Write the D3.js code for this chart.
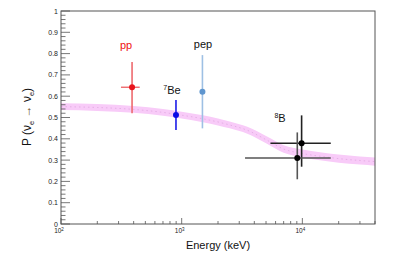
<!DOCTYPE html>
<html>
<head>
<meta charset="utf-8">
<script src="https://cdn.jsdelivr.net/npm/d3@7"></script>
<style>
  body { margin: 0; background: #fff; }
  text { font-family: "Liberation Sans", Arial, sans-serif; }
</style>
</head>
<body>
<div id="chart"></div>
<script>
// MSW survival probability band (energy in keV)
var bandE = [100, 200, 400, 700, 1000, 1500, 2000, 2500, 3500, 5000, 7000, 10000, 15000, 20000, 30000, 40000];
var bandP = [0.551, 0.547, 0.538, 0.524, 0.511, 0.494, 0.479, 0.465, 0.440, 0.396, 0.352, 0.331, 0.316, 0.307, 0.298, 0.293];
var bandW = [0.016, 0.016, 0.016, 0.016, 0.016, 0.016, 0.016, 0.016, 0.016, 0.017, 0.018, 0.019, 0.019, 0.019, 0.019, 0.019];

// measurements
var names  = ["pp", "7Be", "pep", "8B", "8B"];
var energy = [388, 897, 1486, 9860, 9080];
var prob   = [0.642, 0.512, 0.621, 0.379, 0.310];
var eLo    = [314, 897, 1486, 5440, 3350];
var eHi    = [449, 897, 1486, 17200, 17200];
var pLo    = [0.52, 0.441, 0.449, 0.269, 0.21];
var pHi    = [0.76, 0.582, 0.793, 0.51, 0.43];
var colors = ["#e8141c", "#0a0ae6", "#5f96cf", "#000000", "#000000"];
var barColors = ["#ee6a6e", "#1c1ce8", "#9ec0e4", "#222222", "#555555"];

var yTicks = [0, 0.1, 0.2, 0.3, 0.4, 0.5, 0.6, 0.7, 0.8, 0.9, 1];
var xTicks = [100, 1000, 10000];
var xTickLabels = ["2", "3", "4"];

function init(){
  var w = 415, h = 256;
  var left = 61, right = 375, top = 11, bottom = 224;

  var svg = d3.select("#chart").append("svg")
      .attr("width", w)
      .attr("height", h);

  var x = d3.scaleLog().domain([100, 40000]).range([left, right]);
  var y = d3.scaleLinear().domain([0, 1]).range([bottom, top]);

  // band
  var bandData = bandE.map(function(e, i){ return {e: e, p: bandP[i], w: bandW[i]}; });
  var area = d3.area()
      .x(function(d){ return x(d.e); })
      .y0(function(d){ return y(d.p - d.w); })
      .y1(function(d){ return y(d.p + d.w); })
      .curve(d3.curveMonotoneX);
  svg.append("path")
      .datum(bandData)
      .attr("d", area)
      .attr("fill", "#f8cbf8");
  svg.append("path")
      .datum(bandData)
      .attr("d", d3.line().x(function(d){ return x(d.e); }).y(function(d){ return y(d.p); }).curve(d3.curveMonotoneX))
      .attr("fill", "none")
      .attr("stroke", "#dca4dc")
      .attr("stroke-width", 0.7)
      .attr("stroke-dasharray", "1.5,3");

  // frame
  svg.append("rect")
      .attr("x", left).attr("y", top)
      .attr("width", right - left).attr("height", bottom - top)
      .attr("fill", "none")
      .attr("stroke", "#555")
      .attr("stroke-width", 1);

  // y ticks: majors every 0.1, minors every 0.02
  var g = svg.append("g");
  d3.range(0, 51).forEach(function(i){
    var v = i * 0.02;
    var major = i % 5 === 0;
    g.append("line")
      .attr("x1", left).attr("x2", left + (major ? 9 : 4.5))
      .attr("y1", y(v)).attr("y2", y(v))
      .attr("stroke", "#555").attr("stroke-width", 0.8);
  });
  g.selectAll("text.yl").data(yTicks).enter().append("text")
      .attr("class", "yl")
      .attr("x", left - 3)
      .attr("y", function(d){ return y(d) + 2.5; })
      .attr("text-anchor", "end")
      .attr("font-size", 7)
      .attr("fill", "#222")
      .text(function(d){ return d === 0 ? "0" : d === 1 ? "1" : d3.format(".1f")(d); });

  // x ticks: decades + minors
  [100, 1000, 10000].forEach(function(dec){
    for (var k = 1; k <= 9; k++){
      var v = dec * k;
      if (v > 40000) break;
      g.append("line")
        .attr("x1", x(v)).attr("x2", x(v))
        .attr("y1", bottom).attr("y2", bottom - (k === 1 ? 6 : 3))
        .attr("stroke", "#555").attr("stroke-width", 0.8);
    }
  });
  var xl = g.selectAll("text.xl").data(xTicks).enter().append("text")
      .attr("class", "xl")
      .attr("x", function(d){ return x(d) - 2; })
      .attr("y", bottom + 9)
      .attr("text-anchor", "middle")
      .attr("font-size", 6.5)
      .attr("fill", "#222");
  xl.append("tspan").text("10");
  xl.append("tspan").attr("font-size", 4.5).attr("dy", -2.5)
      .text(function(d, i){ return xTickLabels[i]; });

  // error bars and points
  var pts = names.map(function(n, i){
    return {n: n, e: energy[i], p: prob[i], elo: eLo[i], ehi: eHi[i], plo: pLo[i], phi: pHi[i], c: colors[i], bc: barColors[i]};
  });
  var pg = svg.append("g");
  pts.forEach(function(d){
    pg.append("line")
      .attr("x1", x(d.e)).attr("x2", x(d.e))
      .attr("y1", y(d.plo)).attr("y2", y(d.phi))
      .attr("stroke", d.bc).attr("stroke-width", 1.6);
    if (d.elo !== d.ehi) {
      pg.append("line")
        .attr("x1", x(d.elo)).attr("x2", x(d.ehi))
        .attr("y1", y(d.p)).attr("y2", y(d.p))
        .attr("stroke", d.bc).attr("stroke-width", 1.4);
    }
    pg.append("circle")
      .attr("cx", x(d.e)).attr("cy", y(d.p))
      .attr("r", 3)
      .attr("fill", d.c);
  });

  // labels
  function label(tx, ty, sup, main, col){
    var t = svg.append("text")
      .attr("x", tx).attr("y", ty)
      .attr("text-anchor", "middle")
      .attr("font-size", 11)
      .attr("fill", col);
    if (sup) t.append("tspan").attr("font-size", 7).attr("dy", -4).text(sup);
    t.append("tspan").attr("dy", sup ? 4 : 0).text(main);
  }
  label(126, 49, null, "pp", "#ee1111");
  label(203, 48, null, "pep", "#111");
  label(172, 94, "7", "Be", "#111");
  label(280, 122, "8", "B", "#111");

  // axis titles
  svg.append("text")
      .attr("x", 218).attr("y", 249)
      .attr("text-anchor", "middle")
      .attr("font-size", 11)
      .attr("fill", "#111")
      .text("Energy (keV)");

  var yt = svg.append("text")
      .attr("transform", "translate(31," + 117 + ") rotate(-90)")
      .attr("text-anchor", "middle")
      .attr("font-size", 12)
      .attr("fill", "#111");
  yt.append("tspan").text("P (\u03BD");
  yt.append("tspan").attr("font-size", 7.5).attr("dy", 3).text("e");
  yt.append("tspan").attr("dy", -3).attr("fill", "#6b4a1e").text(" \u2192 ");
  yt.append("tspan").text("\u03BD");
  yt.append("tspan").attr("font-size", 7.5).attr("dy", 3).text("e");
  yt.append("tspan").attr("dy", -3).text(")");
}
window.onload = init;
</script>
</body>
</html>
